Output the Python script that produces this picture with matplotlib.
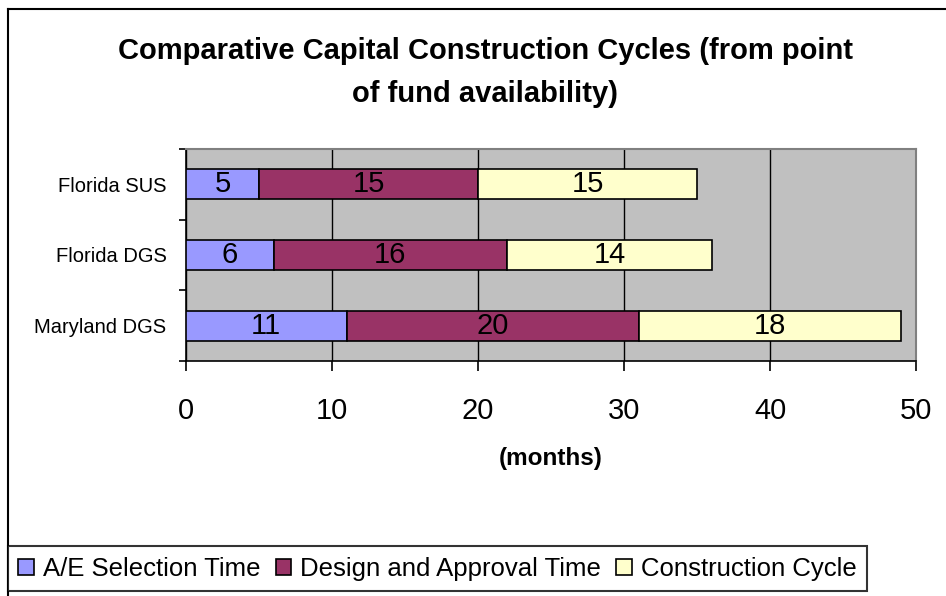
import matplotlib.pyplot as plt
import numpy as np
from matplotlib.lines import Line2D

plt.rcParams['font.family'] = ['Liberation Sans', 'DejaVu Sans']

# data
agencies = ['Maryland DGS', 'Florida DGS', 'Florida SUS']
ae_selection = [11, 6, 5]
design_approval = [20, 16, 15]
construction = [18, 14, 15]
series_names = ['A/E Selection Time', 'Design and Approval Time', 'Construction Cycle']
colors = ['#9999FF', '#993366', '#FFFFCC']

W, H = 946, 596
fig = plt.figure(figsize=(W / 100, H / 100), dpi=100)
ax = fig.add_axes([186 / W, 1 - 361 / H, (916 - 186) / W, (361 - 149) / H])
ax.set_facecolor('#C0C0C0')

y = np.arange(len(agencies))
left = np.zeros(len(agencies))
for vals, name, c in zip([ae_selection, design_approval, construction], series_names, colors):
    bars = ax.barh(y, vals, left=left, height=0.42, color=c, edgecolor='black',
                   linewidth=1.2, label=name, zorder=3)
    ax.bar_label(bars, labels=[str(v) for v in vals], label_type='center', fontsize=21)
    left += np.array(vals)

ax.set_xlim(0, 50)
ax.set_ylim(-0.5, len(agencies) - 0.5)
ax.set_xticks([0, 10, 20, 30, 40, 50])
ax.tick_params(axis='x', direction='out', length=7, width=1.2, labelsize=21, pad=19)
ax.grid(axis='x', color='black', linewidth=1, zorder=1)
ax.set_axisbelow(True)

# category labels at centres, ticks at the boundaries
ax.set_yticks(np.arange(-0.5, len(agencies), 1.0))
ax.set_yticklabels([])
ax.set_yticks(y, minor=True)
ax.set_yticklabels(agencies, minor=True, fontsize=14.5)
ax.tick_params(axis='y', which='major', direction='out', length=5, width=1.2)
ax.tick_params(axis='y', which='minor', length=0, pad=14)

for s in ['left', 'bottom']:
    ax.spines[s].set_color('black')
    ax.spines[s].set_linewidth(1.2)
for s in ['top', 'right']:
    ax.spines[s].set_color('#808080')
    ax.spines[s].set_linewidth(1.5)

ax.set_xlabel('(months)', fontsize=17.5, fontweight='bold', labelpad=16)

fig.text(485 / W, 1 - 51 / H, 'Comparative Capital Construction Cycles (from point',
         ha='center', va='center', fontsize=21, fontweight='bold')
fig.text(485 / W, 1 - 94 / H, 'of fund availability)',
         ha='center', va='center', fontsize=21, fontweight='bold')

# chart area border (left and top visible)
fig.add_artist(Line2D([8 / W, 8 / W], [0, 1 - 9 / H], color='black', linewidth=1.5))
fig.add_artist(Line2D([8 / W, 1], [1 - 9 / H, 1 - 9 / H], color='black', linewidth=1.5))

handles, labels = ax.get_legend_handles_labels()
leg = fig.legend(handles, labels, loc='lower left', bbox_to_anchor=(8 / W, 1 - 591 / H),
                 ncol=3, fontsize=18.5, frameon=True, fancybox=False, edgecolor='black',
                 handlelength=0.6, handleheight=0.6, handletextpad=0.35, columnspacing=0.6,
                 borderpad=0.4, borderaxespad=0)
leg.get_frame().set_linewidth(1.5)

fig.savefig('out.png', dpi=100)
